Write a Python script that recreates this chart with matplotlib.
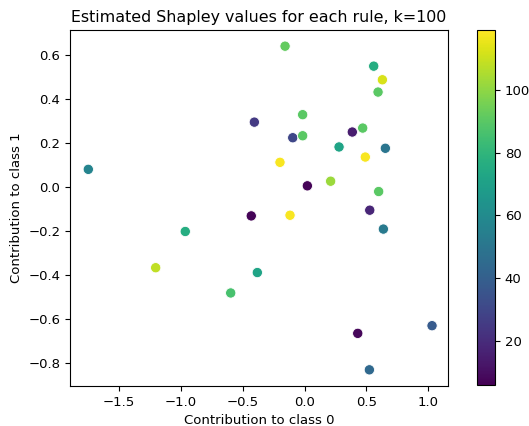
import matplotlib
matplotlib.use("Agg")
import matplotlib.pyplot as plt
import numpy as np

# contributions estimees pour chaque regle (classe 0, classe 1) et nombre associe
contrib_class0 = [-1.746, -0.405, -0.430, -0.157, 0.559, 0.629, 0.594, -0.015,
                  0.470, 0.386, -0.095, -0.015, 0.279, 0.653, 0.491, -0.198,
                  0.023, 0.211, 0.599, -0.117, 0.527, -0.963, -1.202, -0.381,
                  -0.596, 0.637, 0.430, 1.030, 0.524]
contrib_class1 = [0.080, 0.295, -0.132, 0.641, 0.550, 0.488, 0.432, 0.329,
                  0.268, 0.250, 0.224, 0.233, 0.182, 0.176, 0.136, 0.112,
                  0.005, 0.026, -0.021, -0.129, -0.106, -0.203, -0.368, -0.390,
                  -0.483, -0.192, -0.667, -0.632, -0.833]
rule_size = [57, 25, 7, 92, 76, 112, 90, 90,
             90, 15, 30, 90, 72, 50, 118, 118,
             7, 102, 90, 118, 18, 76, 108, 72,
             86, 52, 8, 38, 44]

plt.rcParams['font.size'] = 9.5
plt.rcParams['axes.titlesize'] = 11.4

fig = plt.figure(figsize=(5.29, 4.26), dpi=100)
ax = fig.add_axes([0.1323, 0.0939, 0.7146, 0.8357])
cax = fig.add_axes([0.9017, 0.0962, 0.034, 0.833])

sc = ax.scatter(contrib_class0, contrib_class1, c=rule_size, cmap="viridis",
                vmin=6, vmax=119, s=55, edgecolors="white", linewidths=0.6)
ax.set_xlim(-1.894, 1.159)
ax.set_title("Estimated Shapley values for each rule, k=100")
ax.set_xlabel("Contribution to class 0")
ax.set_ylabel("Contribution to class 1")
fig.colorbar(sc, cax=cax)

fig.savefig("out.png", dpi=100)
